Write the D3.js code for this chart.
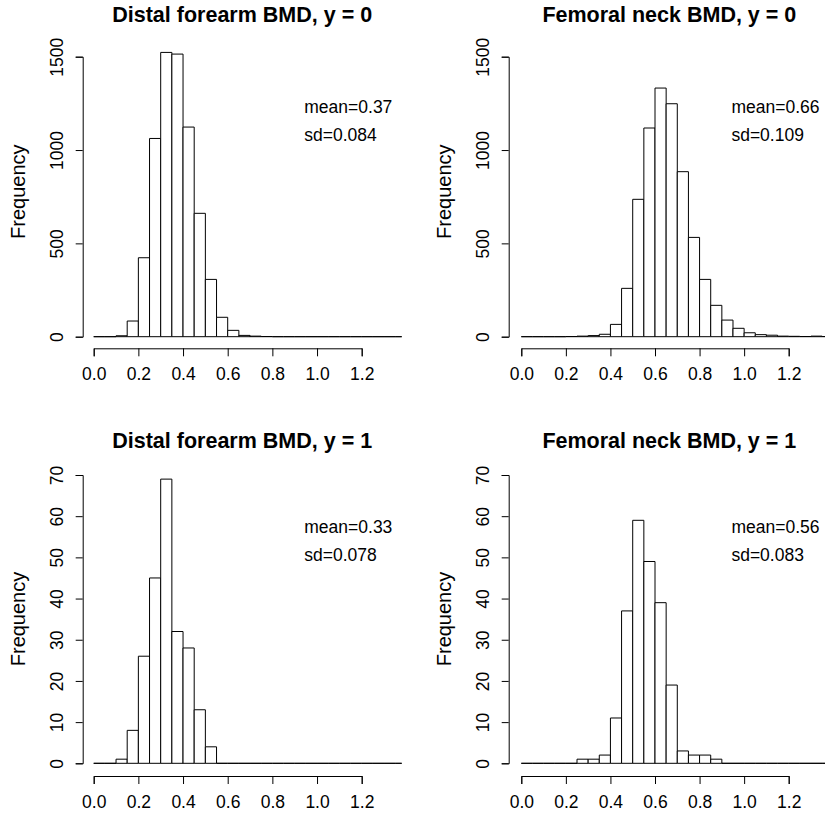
<!DOCTYPE html>
<html>
<head>
<meta charset="utf-8">
<script src="https://cdn.jsdelivr.net/npm/d3@7"></script>
<style>
  body { margin: 0; background: #fff; }
  svg { display: block; }
  text { font-family: "Liberation Sans", Arial, Helvetica, sans-serif; fill: #000; }
  .domain, .tick line { stroke: #000; stroke-width: 1; }
  .bar { fill: #fff; stroke: #000; stroke-width: 1; }
</style>
</head>
<body>
<svg width="825" height="817"></svg>
<script>
// bin edges of every histogram (width 0.05)
let binEdges = [0, 0.05, 0.1, 0.15, 0.2, 0.25, 0.3, 0.35, 0.4, 0.45, 0.5, 0.55, 0.6, 0.65,
  0.7, 0.75, 0.8, 0.85, 0.9, 0.95, 1.0, 1.05, 1.1, 1.15, 1.2, 1.25, 1.3, 1.35, 1.4];

// counts per bin
let forearmY0 = [0, 0, 5, 84, 423, 1062, 1523, 1514, 1123, 661, 307, 104, 34, 7, 3, 1, 0, 0, 0, 0, 0, 0, 0, 0, 0, 0, 0, 0];
let neckY0 = [0, 0, 0, 0, 1, 3, 6, 13, 66, 259, 736, 1118, 1332, 1248, 884, 532, 307, 168, 89, 45, 21, 11, 8, 3, 2, 1, 3, 1];
let forearmY1 = [0, 0, 1, 8, 26, 45, 69, 32, 28, 13, 4, 0, 0, 0, 0, 0, 0, 0, 0, 0, 0, 0, 0, 0, 0, 0, 0, 0];
let neckY1 = [0, 0, 0, 0, 0, 1, 1, 2, 11, 37, 59, 49, 39, 19, 3, 2, 2, 1, 0, 0, 0, 0, 0, 0, 0, 0, 0, 0];

let titles = ['Distal forearm BMD, y = 0', 'Femoral neck BMD, y = 0',
  'Distal forearm BMD, y = 1', 'Femoral neck BMD, y = 1'];
let means = ['mean=0.37', 'mean=0.66', 'mean=0.33', 'mean=0.56'];
let sds = ['sd=0.084', 'sd=0.109', 'sd=0.078', 'sd=0.083'];

let xTicks = [0, 0.2, 0.4, 0.6, 0.8, 1.0, 1.2];
let yTicksTop = [0, 500, 1000, 1500];
let yTicksBottom = [0, 10, 20, 30, 40, 50, 60, 70];

let counts = [forearmY0, neckY0, forearmY1, neckY1];
let yTicks = [yTicksTop, yTicksTop, yTicksBottom, yTicksBottom];

// pixel layout of the four panels (2 x 2)
let cols = [
  {axisX: 82.7, x0: 93.7, x1: 361.7, right: 401.7},
  {axisX: 508.7, x0: 521.3, x1: 788.7, right: 830}
];
let rows = [
  {titleY: 21.5, y0: 336.7, y1: 56.7, axisY: 348.3, top: 39},
  {titleY: 448.3, y0: 763.3, y1: 475, axisY: 776, top: 466}
];

let svg = d3.select('svg');

counts.forEach((c, i) => {
  let col = cols[i % 2];
  let row = rows[Math.floor(i / 2)];
  let ticks = yTicks[i];

  let xScale = d3.scaleLinear()
    .domain([0, 1.2])
    .range([col.x0, col.x1]);

  let yScale = d3.scaleLinear()
    .domain([0, d3.max(ticks)])
    .range([row.y0, row.y1]);

  let bins = c.map((n, k) => ({x0: binEdges[k], x1: binEdges[k + 1], n: n}));

  let g = svg.append('g');

  // clip to plot region
  g.append('clipPath')
    .attr('id', 'clip' + i)
    .append('rect')
    .attr('x', col.axisX)
    .attr('y', row.top)
    .attr('width', col.right - col.axisX)
    .attr('height', row.axisY - row.top);

  // bars as closed paths so that empty bins still show on the baseline
  g.append('g')
    .attr('clip-path', `url(#clip${i})`)
    .selectAll('path')
    .data(bins)
    .enter()
    .append('path')
    .attr('class', 'bar')
    .attr('d', d => {
      let a = xScale(d.x0), b = xScale(d.x1);
      let base = yScale(0), h = yScale(d.n);
      return `M${a},${base}V${h}H${b}V${base}Z`;
    });

  // x axis
  let xAxis = g.append('g')
    .attr('transform', `translate(0, ${row.axisY})`)
    .call(d3.axisBottom(xScale)
      .tickValues(xTicks)
      .tickFormat(d3.format('.1f'))
      .tickSizeOuter(0)
      .tickSize(8));
  xAxis.selectAll('text')
    .attr('y', 31.7)
    .attr('dy', null)
    .attr('font-size', 17.5);

  // y axis
  let yAxis = g.append('g')
    .attr('transform', `translate(${col.axisX}, 0)`)
    .call(d3.axisLeft(yScale)
      .tickValues(ticks)
      .tickFormat(d3.format('d'))
      .tickSizeOuter(0)
      .tickSize(7));
  yAxis.selectAll('text')
    .attr('x', null)
    .attr('dy', null)
    .attr('text-anchor', 'middle')
    .attr('transform', 'translate(-19.5, 0) rotate(-90)')
    .attr('font-size', 17.5);

  xAxis.attr('font-family', null);
  yAxis.attr('font-family', null);

  // axis label
  g.append('text')
    .attr('transform', `translate(${col.axisX - 57.7}, ${(row.top + row.axisY) / 2 - 2}) rotate(-90)`)
    .attr('text-anchor', 'middle')
    .attr('font-size', 20)
    .text('Frequency');

  // title
  g.append('text')
    .attr('x', (col.axisX + col.right) / 2)
    .attr('y', row.titleY)
    .attr('text-anchor', 'middle')
    .attr('font-size', 21.5)
    .attr('font-weight', 'bold')
    .text(titles[i]);

  // mean / sd annotations
  let top = d3.max(ticks);
  g.append('text')
    .attr('x', xScale(0.943))
    .attr('y', yScale(top * 0.8))
    .attr('font-size', 17.5)
    .text(means[i]);

  g.append('text')
    .attr('x', xScale(0.943))
    .attr('y', yScale(top * 0.7))
    .attr('font-size', 17.5)
    .text(sds[i]);
});
</script>
</body>
</html>
